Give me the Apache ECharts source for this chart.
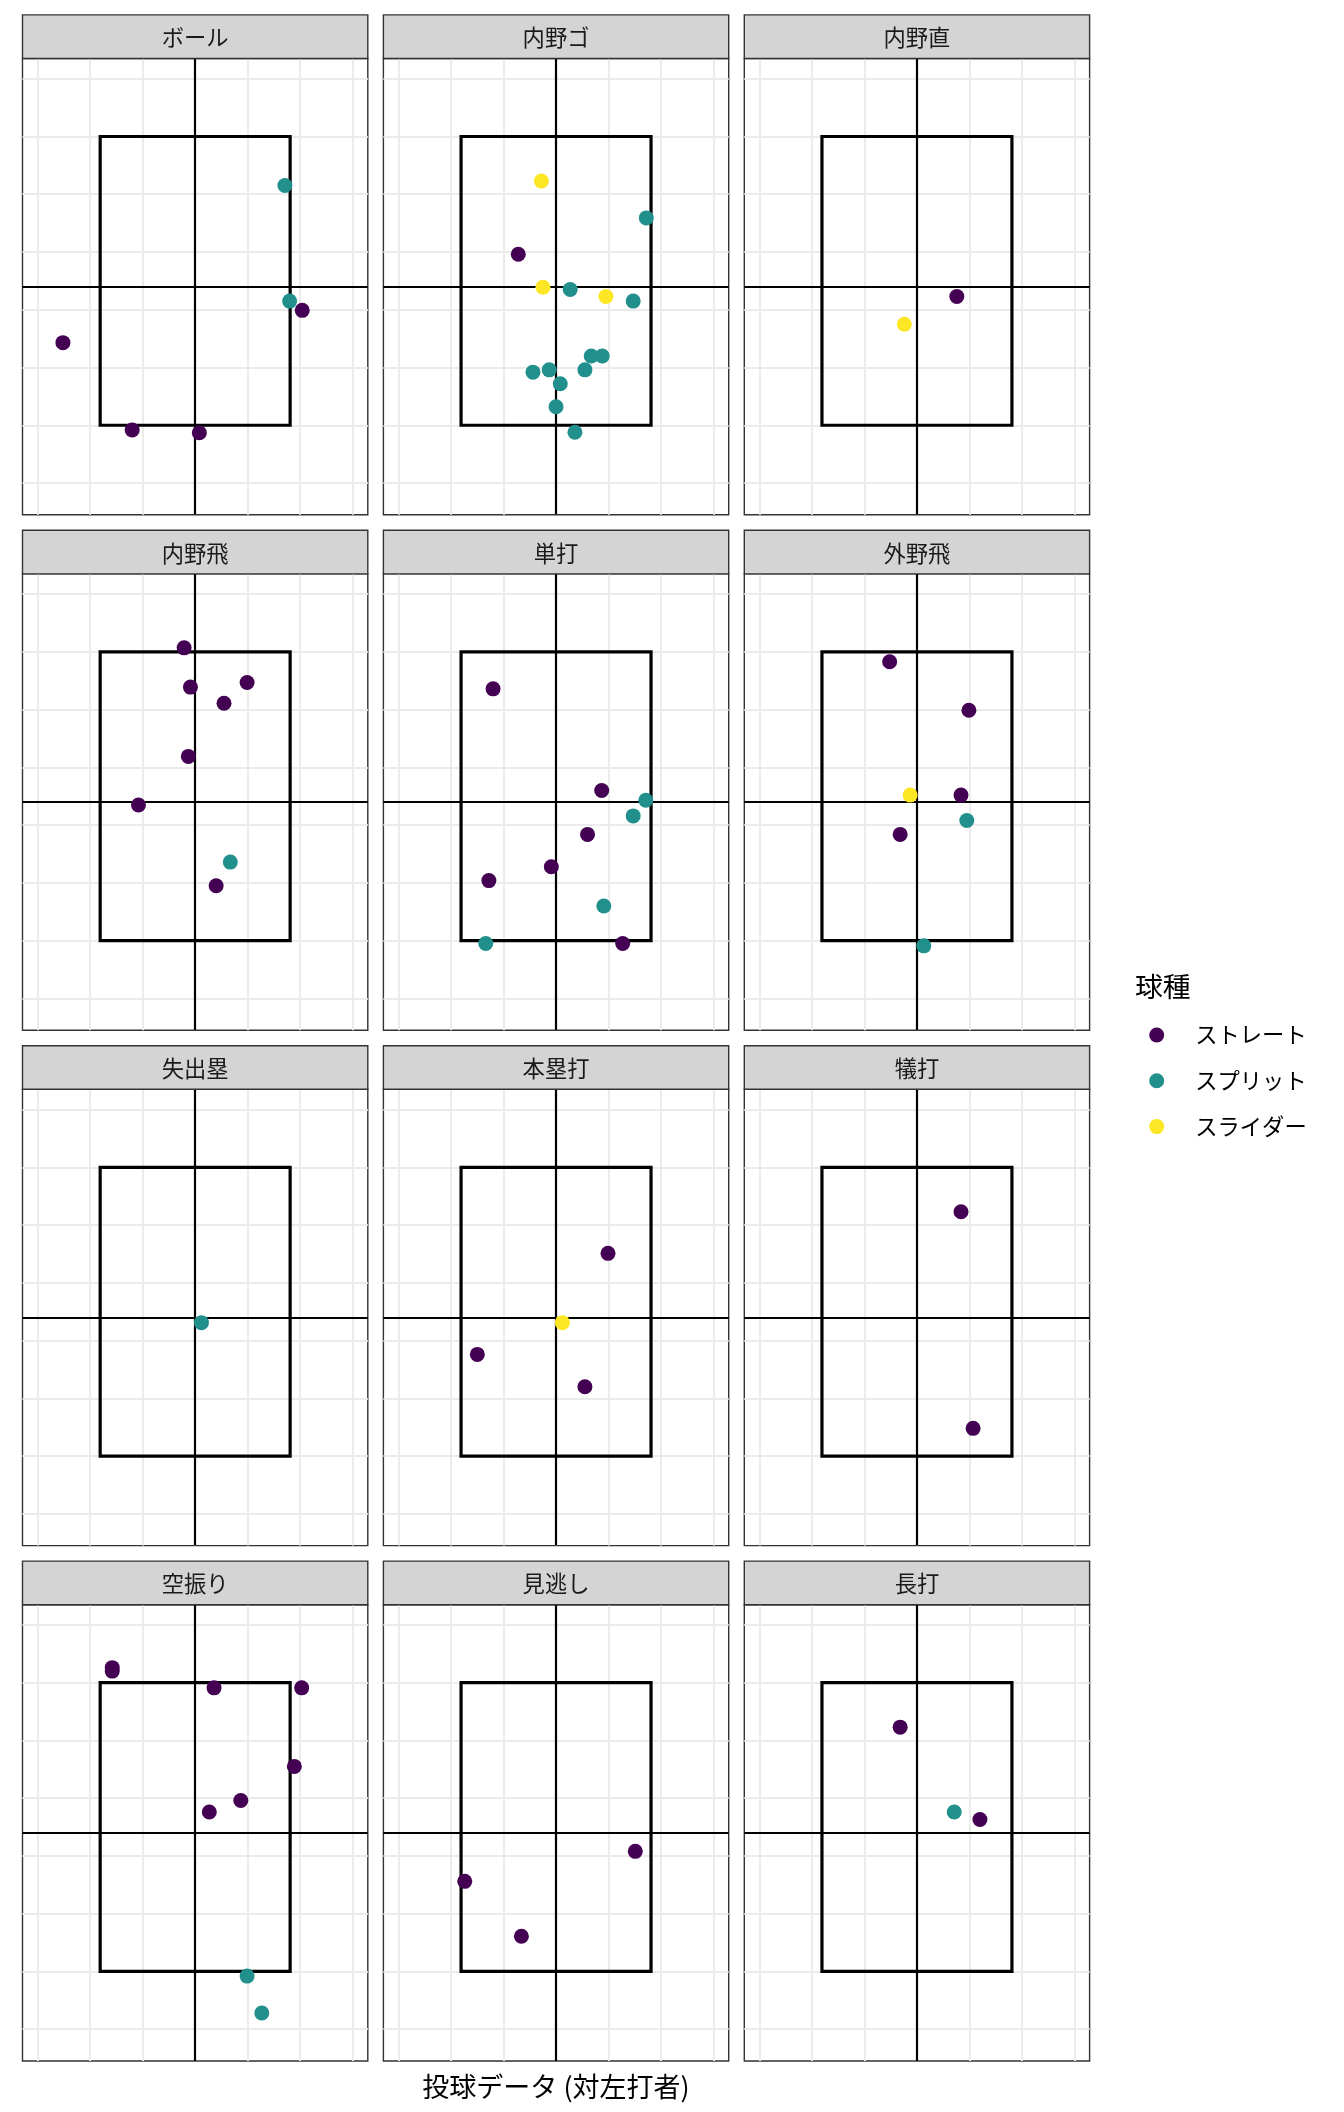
<!DOCTYPE html>
<html>
<head>
<meta charset="utf-8">
<script src="https://cdn.jsdelivr.net/npm/echarts@6/dist/echarts.min.js"></script>
<style>
html,body{margin:0;padding:0;background:#fff;}
#chart{width:1344px;height:2112px;}
</style>
</head>
<body>
<div id="chart"></div>
<script>
// ---- data ----
const panels = ['ボール','内野ゴ','内野直','内野飛','単打','外野飛','失出塁','本塁打','犠打','空振り','見逃し','長打'];
const pitchTypes = ['ストレート','スプリット','スライダー'];
const pitchColors = ['#440154','#21908C','#FDE725'];

// [panel, horizontal location, vertical location]
const straightPts = [
  ['ボール',20.4,19.9],['ボール',-25.2,14.3],['ボール',-12.0,-0.8],['ボール',0.8,-1.3],
  ['内野ゴ',-7.2,29.6],
  ['内野直',7.6,22.3],
  ['内野飛',-2.1,50.7],['内野飛',-0.9,43.9],['内野飛',9.9,44.7],['内野飛',5.5,41.1],['内野飛',-1.3,31.9],['内野飛',-10.8,23.5],['内野飛',4.0,9.5],
  ['単打',-12.0,43.6],['単打',8.7,26.0],['単打',6.0,18.4],['単打',-0.9,12.8],['単打',-12.8,10.4],['単打',12.7,-0.5],
  ['外野飛',-5.2,48.3],['外野飛',9.9,39.9],['外野飛',8.4,25.2],['外野飛',-3.2,18.4],
  ['本塁打',9.9,35.1],['本塁打',-15.0,17.6],['本塁打',5.5,12.0],
  ['犠打',8.4,42.3],['犠打',10.7,4.8],
  ['空振り',-15.8,52.6],['空振り',-15.8,52.0],['空振り',3.6,49.1],['空振り',20.3,49.1],['空振り',18.9,35.5],['空振り',8.7,29.6],['空振り',2.7,27.6],
  ['見逃し',15.1,20.8],['見逃し',-17.4,15.6],['見逃し',-6.6,6.1],
  ['長打',-3.2,42.3],['長打',12.0,26.3]
];
const splitPts = [
  ['ボール',17.1,41.5],['ボール',18.0,21.5],
  ['内野ゴ',17.2,35.9],['内野ゴ',2.7,23.5],['内野ゴ',14.7,21.5],['内野ゴ',6.7,12.0],['内野ゴ',8.8,12.0],['内野ゴ',5.5,9.6],['内野ゴ',-1.3,9.6],['内野ゴ',-4.4,9.2],['内野ゴ',0.8,7.2],['内野ゴ',0.0,3.2],['内野ゴ',3.6,-1.2],
  ['内野飛',6.7,13.6],
  ['単打',17.1,24.3],['単打',14.7,21.6],['単打',9.1,6.0],['単打',-13.4,-0.5],
  ['外野飛',9.5,20.8],['外野飛',1.3,-0.9],
  ['失出塁',1.2,23.1],
  ['空振り',9.9,-0.8],['空振り',12.7,-7.2],
  ['長打',7.1,27.6]
];
const sliderPts = [
  ['内野ゴ',-2.8,42.3],['内野ゴ',-2.5,23.9],['内野ゴ',9.5,22.3],
  ['内野直',-2.4,17.5],
  ['外野飛',-1.3,25.2],
  ['本塁打',1.2,23.1]
];

const xRange = [-32.9, 32.9];
const yRange = [-15.5, 63.5];
const xGridTicks = [-30,-20,-10,0,10,20,30];
const yGridTicks = [-10,0,10,20,30,40,50,60];
const zoneX = [-18.1, 18.1];
const zoneY = [0, 50];
const crossX = 0;
const crossY = 24;
const xTitle = '投球データ (対左打者)';
const legendTitle = '球種';

// ---- layout ----
const FONT = '"Noto Sans CJK JP","Noto Sans",sans-serif';
const colLeft = [22.5, 383.4, 744.3];
const rowTop = [58.5, 573.9, 1089.3, 1604.7];
const pW = 345.3, pH = 456.3, stripH = 43.6;

const chart = echarts.init(document.getElementById('chart'), null, {renderer:'canvas'});
const grids = [], xAxes = [], yAxes = [], series = [], graphics = [];
const typeData = [straightPts, splitPts, sliderPts];

panels.forEach((name, i) => {
  const c = i % 3, r = Math.floor(i / 3);
  const L = colLeft[c], T = rowTop[r];
  grids.push({left:L, top:T, width:pW, height:pH, show:true, backgroundColor:'#fff', borderColor:'#333333', borderWidth:1.4, containLabel:false, z:0});
  xAxes.push({gridIndex:i, type:'value', min:xRange[0], max:xRange[1], show:false});
  yAxes.push({gridIndex:i, type:'value', min:yRange[0], max:yRange[1], show:false});
  // grid lines
  series.push({
    type:'line', xAxisIndex:i, yAxisIndex:i, data:[], silent:true, z:1,
    markLine:{silent:true, z:1, symbol:'none', animation:false, label:{show:false},
      lineStyle:{color:'#ebebeb', width:2, type:'solid'},
      data: xGridTicks.map(v=>({xAxis:v})).concat(yGridTicks.map(v=>({yAxis:v})))}
  });
  // cross lines
  series.push({
    type:'line', xAxisIndex:i, yAxisIndex:i, data:[], silent:true, z:2,
    markLine:{silent:true, z:2, symbol:'none', animation:false, label:{show:false},
      lineStyle:{color:'#000', width:2.2, type:'solid'},
      data:[{xAxis:crossX},{yAxis:crossY}]}
  });
  // strike zone
  series.push({
    type:'line', xAxisIndex:i, yAxisIndex:i, silent:true, z:3, symbol:'none', animation:false,
    lineStyle:{color:'#000', width:3.2, join:'miter', cap:'square'},
    data:[[zoneX[0],zoneY[0]],[zoneX[1],zoneY[0]],[zoneX[1],zoneY[1]],[zoneX[0],zoneY[1]],[zoneX[0],zoneY[0]]]
  });
  // points
  pitchTypes.forEach((pt, k) => {
    series.push({
      type:'scatter', name:pt, xAxisIndex:i, yAxisIndex:i, z:4, symbol:'circle', symbolSize:15,
      itemStyle:{color:pitchColors[k], opacity:1},
      animation:false,
      data: typeData[k].filter(d=>d[0]===name).map(d=>[d[1],d[2]])
    });
  });
  // strip
  graphics.push({type:'rect', shape:{x:L, y:T-stripH, width:pW, height:stripH},
    style:{fill:'#d4d4d4', stroke:'#333333', lineWidth:1.4}, z:10});
  graphics.push({type:'text', x:L+pW/2, y:T-stripH/2+1,
    style:{text:name, fill:'#1a1a1a', font:'22.3px '+FONT, textAlign:'center', textVerticalAlign:'middle'}, z:11});
});

graphics.push({type:'text', x:556, y:2087,
  style:{text:xTitle, fill:'#000', font:'27px '+FONT, textAlign:'center', textVerticalAlign:'middle'}});
graphics.push({type:'text', x:1135, y:986,
  style:{text:legendTitle, fill:'#000', font:'27.8px '+FONT, textAlign:'left', textVerticalAlign:'middle'}});

chart.setOption({
  backgroundColor:'#fff',
  animation:false,
  grid:grids, xAxis:xAxes, yAxis:yAxes, series:series,
  legend:{
    data:pitchTypes, orient:'vertical', left:1144.2, top:1017, itemGap:19.8,
    icon:'circle', itemWidth:15, itemHeight:15, selectedMode:false,
    textStyle:{fontFamily:FONT, fontSize:22.3, color:'#000', lineHeight:26, padding:[0,0,0,26]}
  },
  graphic:graphics
});
</script>
</body>
</html>
